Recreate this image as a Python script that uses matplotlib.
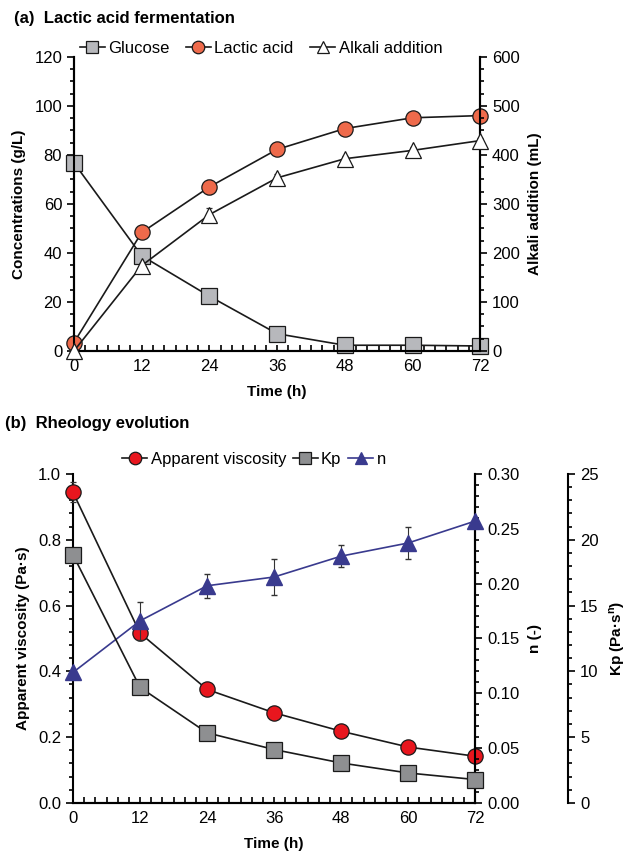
import numpy as np
import matplotlib
matplotlib.use('Agg')
from matplotlib import pyplot as plt
from matplotlib.lines import Line2D
from matplotlib.ticker import MultipleLocator, FormatStrFormatter

plt.rcParams['font.family'] = ['Liberation Sans', 'DejaVu Sans']
plt.rcParams['font.size'] = 12

# data #####################################################################
time_h = [0, 12, 24, 36, 48, 60, 72]

glucose = [76.7, 38.8, 22.3, 7.0, 2.3, 2.3, 2.0]
glucose_err = [0.5, 1.0, 1.2, 0.5, 0.3, 0.3, 0.3]
lactic = [3.4, 48.3, 66.9, 82.2, 90.7, 95.1, 96.0]
lactic_err = [0.5, 1.0, 3.0, 1.0, 0.8, 0.8, 0.8]
alkali = [0, 174, 278, 353, 392, 409, 429]
alkali_err = [0, 6, 14, 8, 6, 6, 6]

viscosity = [0.944, 0.516, 0.345, 0.274, 0.218, 0.170, 0.142]
viscosity_err = [0.03, 0.02, 0.005, 0.005, 0.005, 0.005, 0.005]
kp = [18.85, 8.78, 5.33, 4.06, 3.04, 2.28, 1.78]
kp_err = [0.4, 0.2, 0.1, 0.1, 0.1, 0.1, 0.1]
n_idx = [0.119, 0.166, 0.198, 0.206, 0.225, 0.237, 0.257]
n_err = [0.0, 0.017, 0.011, 0.016, 0.010, 0.015, 0.0]

# colours
c_glu = '#B7B8BC'
c_lac = '#EE6A4B'
c_visc = '#E8161E'
c_kp = '#8E8F91'
c_n = '#393A8E'

##########################################################################

fig = plt.figure(figsize=(6.27, 8.6), dpi=100)

def style_x(ax):
    ax.set_xlim(0, 72)
    ax.xaxis.set_major_locator(MultipleLocator(12))
    ax.xaxis.set_minor_locator(MultipleLocator(2))
    ax.tick_params(axis='x', which='both', direction='in', length=4, width=1.2, pad=6)
    ax.set_xlabel('Time (h)', fontsize=11, fontweight='bold', labelpad=8)

def style_y(a):
    a.spines['top'].set_visible(False)
    for s in a.spines.values():
        s.set_linewidth(1.5)
    a.tick_params(axis='y', which='major', direction='out', length=5, width=1.2)
    a.tick_params(axis='y', which='minor', direction='out', length=3, width=1.2)

def no_clip(a):
    for art in a.get_children():
        try:
            art.set_clip_on(False)
        except Exception:
            pass

def leg_handle(marker, face, edge='#1a1a1a', line='#1a1a1a'):
    return Line2D([], [], color=line, lw=1.2, marker=marker, markerfacecolor=face,
                  markeredgecolor=edge, markeredgewidth=0.9, ms=9)

### panel (a) ###
ax1 = fig.add_axes([0.118, 0.592, 0.648, 0.342])
ax1b = ax1.twinx()
style_x(ax1)
ax1.set_ylim(0, 120)
ax1.yaxis.set_major_locator(MultipleLocator(20))
ax1.yaxis.set_minor_locator(MultipleLocator(5))
ax1b.set_ylim(0, 600)
ax1b.yaxis.set_major_locator(MultipleLocator(100))
ax1b.yaxis.set_minor_locator(MultipleLocator(25))
style_y(ax1)
style_y(ax1b)
ax1.set_ylabel('Concentrations (g/L)', fontsize=11, fontweight='bold', labelpad=6)
ax1b.set_ylabel('Alkali addition (mL)', fontsize=11, fontweight='bold', labelpad=6)

ekw = dict(capsize=2, elinewidth=0.8, ecolor='#333333', lw=1.2, color='#1a1a1a',
           markeredgecolor='#1a1a1a', markeredgewidth=0.9, ms=11)
ax1.errorbar(time_h, glucose, yerr=glucose_err, marker='s', markerfacecolor=c_glu,
             zorder=3, **ekw)
ax1.errorbar(time_h, lactic, yerr=lactic_err, marker='o', markerfacecolor=c_lac,
             zorder=3, **ekw)
ax1b.errorbar(time_h, alkali, yerr=alkali_err, marker='^', markerfacecolor='white',
              zorder=3, **ekw)
no_clip(ax1)
no_clip(ax1b)

ax1b.legend([leg_handle('s', c_glu), leg_handle('o', c_lac), leg_handle('^', 'white')],
            ['Glucose', 'Lactic acid', 'Alkali addition'],
            loc='lower center', bbox_to_anchor=(0.46, 0.98), ncol=3, frameon=False,
            handlelength=1.5, handletextpad=0.2, columnspacing=1.0, fontsize=12,
            borderaxespad=0)
fig.text(0.022, 0.979, '(a)  Lactic acid fermentation', fontsize=12, fontweight='bold',
         va='center')

### panel (b) ###
ax2 = fig.add_axes([0.1164, 0.0663, 0.6416, 0.3827])
ax2n = ax2.twinx()
ax2k = ax2.twinx()
ax2k.spines['right'].set_position(('axes', 1.231))
style_x(ax2)
ax2.set_ylim(0, 1.0)
ax2.yaxis.set_major_locator(MultipleLocator(0.2))
ax2.yaxis.set_minor_locator(MultipleLocator(0.04))
ax2.yaxis.set_major_formatter(FormatStrFormatter('%.1f'))
ax2n.set_ylim(0, 0.30)
ax2n.yaxis.set_major_locator(MultipleLocator(0.05))
ax2n.yaxis.set_minor_locator(MultipleLocator(0.01))
ax2n.yaxis.set_major_formatter(FormatStrFormatter('%.2f'))
ax2k.set_ylim(0, 25)
ax2k.yaxis.set_major_locator(MultipleLocator(5))
ax2k.yaxis.set_minor_locator(MultipleLocator(1))
for a in (ax2, ax2n, ax2k):
    style_y(a)
ax2k.spines['bottom'].set_visible(False)
ax2k.spines['left'].set_visible(False)
ax2n.spines['left'].set_visible(False)
ax2.set_ylabel('Apparent viscosity (Pa·s)', fontsize=11, fontweight='bold', labelpad=6)
ax2n.set_ylabel('n (-)', fontsize=11, fontweight='bold', labelpad=6)
ax2k.set_ylabel('Kp (Pa·s$^\\mathregular{n}$)', fontsize=11, fontweight='bold', labelpad=6)

ax2.errorbar(time_h, viscosity, yerr=viscosity_err, marker='o', markerfacecolor=c_visc,
             zorder=4, **ekw)
ax2k.errorbar(time_h, kp, yerr=kp_err, marker='s', markerfacecolor=c_kp,
              zorder=3, **ekw)
ax2n.errorbar(time_h, n_idx, yerr=n_err, marker='^', color=c_n, markerfacecolor=c_n,
              markeredgecolor=c_n, ms=12, lw=1.2, capsize=2, elinewidth=0.8,
              ecolor='#333333', zorder=3)
for a in (ax2, ax2n, ax2k):
    no_clip(a)

ax2k.legend([leg_handle('o', c_visc), leg_handle('s', c_kp), leg_handle('^', c_n, c_n, c_n)],
            ['Apparent viscosity', 'Kp', 'n'],
            loc='lower center', bbox_to_anchor=(0.45, 1.0), ncol=3, frameon=False,
            handlelength=1.5, handletextpad=0.2, columnspacing=0.4, fontsize=12,
            borderaxespad=0)
fig.text(0.008, 0.508, '(b)  Rheology evolution', fontsize=12, fontweight='bold',
         va='center')

fig.savefig('out.png', dpi=100)
